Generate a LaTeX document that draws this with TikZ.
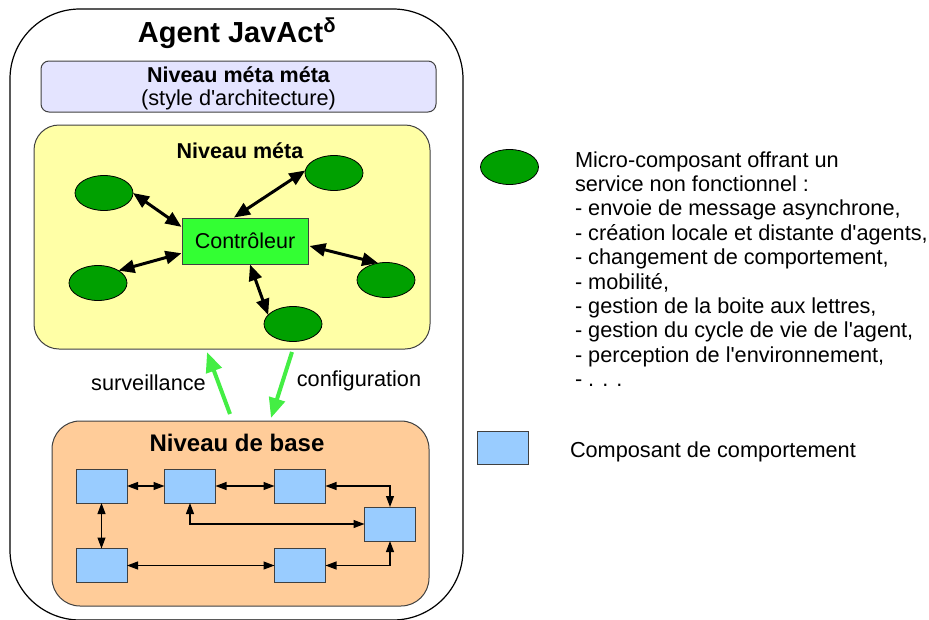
\documentclass[tikz,border=0pt]{standalone}
\usepackage{fontspec}
\setmainfont{Liberation Sans}
\usetikzlibrary{arrows.meta,shapes.geometric,calc}
\definecolor{metameta}{RGB}{228,228,255}
\definecolor{metaY}{RGB}{255,255,166}
\definecolor{baseO}{RGB}{255,204,153}
\definecolor{compB}{RGB}{153,204,255}
\definecolor{microG}{RGB}{0,160,0}
\definecolor{ctrlG}{RGB}{51,255,51}
\definecolor{arrG}{RGB}{68,238,68}
\definecolor{edgeC}{RGB}{64,64,64}
\newcommand{\apo}{\textquotesingle}
\begin{document}
\begin{tikzpicture}[x=1pt,y=-1pt,
  txt/.style={font=\fontsize{21.7}{24.4}\selectfont, inner sep=0, outer sep=0, anchor=base},
  boldtxt/.style={font=\fontsize{21.5}{24.4}\selectfont\bfseries, inner sep=0, outer sep=0, anchor=base},
  panel/.style={draw=edgeC, line width=1pt, inner sep=0, outer sep=0, rectangle},
  micro/.style={ellipse, draw=black, line width=0.8pt, fill=microG, minimum width=58, minimum height=35, inner sep=0, outer sep=0},
  comp/.style={rectangle, draw=edgeC, line width=1pt, fill=compB, minimum width=51, minimum height=34, inner sep=0, outer sep=0},
  bigarrow/.style={line width=3pt, {Triangle[length=16pt,width=13pt]}-{Triangle[length=16pt,width=13pt]}},
  smallarrow/.style={line width=1.1pt, {Triangle[length=11pt,width=8pt]}-{Triangle[length=11pt,width=8pt]}},
  greenarrow/.style={line width=4pt, draw=arrG, -{Triangle[length=20pt,width=16pt]}}
]
\useasboundingbox (0,0) rectangle (929,619);
\clip (0,0) rectangle (929,619);

% outer agent box
\node[panel, draw=black, line width=1.2pt, minimum width=453, minimum height=611, rounded corners=70] (agent) at (236.5,314.5) {};
\node[font=\fontsize{29}{34}\selectfont\bfseries, inner sep=0, anchor=base] (title) at (237,42) {Agent JavAct\textsuperscript{δ}};

% meta meta
\node[panel, fill=metameta, minimum width=395, minimum height=51, rounded corners=8] (metameta) at (238.5,86.5) {};
\node[boldtxt] (mmt1) at (238.5,82) {Niveau méta méta};
\node[txt] (mmt2) at (238.5,105) {(style d\apo{}architecture)};

% meta level
\node[panel, fill=metaY, minimum width=396, minimum height=224, rounded corners=25] (meta) at (232,237) {};
\node[boldtxt] (metat) at (240,158) {Niveau méta};
\node[rectangle, draw=edgeC, line width=1pt, fill=ctrlG, minimum width=126, minimum height=46, inner sep=0, font=\fontsize{21.5}{24.4}\selectfont] (ctrl) at (245,241) {Contrôleur};
\node[micro] (E1) at (104,193) {};
\node[micro] (E2) at (334,173) {};
\node[micro] (E3) at (98,283) {};
\node[micro] (E4) at (386,280) {};
\node[micro] (E5) at (293,324) {};

\draw[bigarrow] (E1.east) -- ($(ctrl.north west)!0.2!(ctrl.south west)$);
\draw[bigarrow] ($(ctrl.north)+(-11,0)$) -- (E2.175);
\draw[bigarrow] (E3.north east) -- ($(ctrl.north west)!0.76!(ctrl.south west)$);
\draw[bigarrow] ($(ctrl.east)+(1,5)$) -- (E4.115);
\draw[bigarrow] ($(ctrl.south)+(5,0)$) -- (E5.160);

% green arrows
\coordinate (s1) at (230,414);
\coordinate (s2) at (207,352);
\coordinate (c1) at (292,352);
\coordinate (c2) at (271,418);
\draw[greenarrow] (s1) -- (s2);
\draw[greenarrow] (c1) -- (c2);
\node[txt] (surv) at (148.5,390) {surveillance};
\node[txt] (conf) at (359,386) {configuration};

% base level
\node[panel, fill=baseO, minimum width=377, minimum height=185, rounded corners=28] (base) at (240.5,513.5) {};
\node[boldtxt, font=\fontsize{24}{28}\selectfont\bfseries] (baset) at (237,451) {Niveau de base};
\node[comp] (B1) at (101.5,486) {};
\node[comp] (B2) at (190,486) {};
\node[comp] (B3) at (300,486) {};
\node[comp] (B4) at (390,524) {};
\node[comp] (B5) at (101.5,565.5) {};
\node[comp] (B6) at (300,565.5) {};

\draw[smallarrow] (B1.east) -- (B2.west);
\draw[smallarrow] (B2.east) -- (B3.west);
\draw[smallarrow] (B3.east) -| (B4.north);
\draw[smallarrow] (B2.south) |- (B4.west);
\draw[smallarrow] (B1.south) -- (B5.north);
\draw[smallarrow] (B5.east) -- (B6.west);
\draw[smallarrow] (B6.east) -| (B4.south);

% legend
\node[micro] (legE) at (509.5,167) {};
\foreach \t [count=\i] in {{Micro-composant offrant un},{service non fonctionnel :},{- envoie de message asynchrone,},{- création locale et distante d\apo{}agents,},{- changement de comportement,},{- mobilité,},{- gestion de la boite aux lettres,},{- gestion du cycle de vie de l\apo{}agent,},{- perception de l\apo{}environnement,},{- . . .}}
  \node[txt, anchor=base west] (leg\i) at (575,{167+24.4*(\i-1)}) {\t};
\node[comp, minimum height=33] (legC) at (502.5,447.5) {};
\node[txt, anchor=base west] (legCt) at (570,457) {Composant de comportement};
\end{tikzpicture}
\end{document}
